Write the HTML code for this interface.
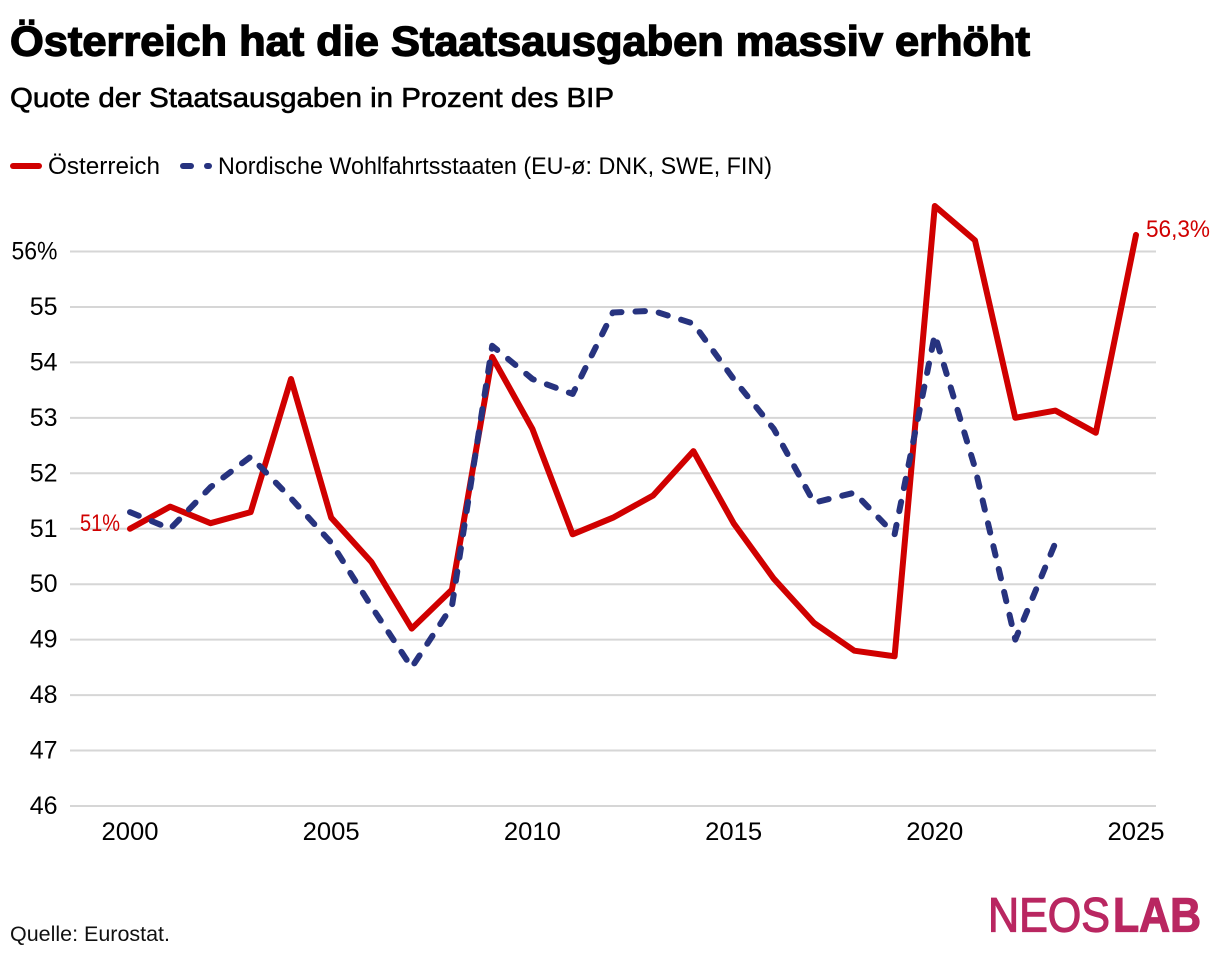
<!DOCTYPE html>
<html lang="de">
<head>
<meta charset="utf-8">
<title>Österreich hat die Staatsausgaben massiv erhöht</title>
<style>
html,body{margin:0;padding:0;background:#fff;}
svg{display:block;font-family:"Liberation Sans",sans-serif;}
</style>
</head>
<body>
<svg id="chart" width="1220" height="960" viewBox="0 0 1220 960" xmlns="http://www.w3.org/2000/svg">
  <text x="10" y="55.5" font-size="42" font-weight="700" fill="#000" stroke="#000" stroke-width="1.4" textLength="1020" lengthAdjust="spacingAndGlyphs">Österreich hat die Staatsausgaben massiv erhöht</text>
  <text x="10" y="107" font-size="28" fill="#000" stroke="#000" stroke-width="0.6" textLength="604" lengthAdjust="spacingAndGlyphs">Quote der Staatsausgaben in Prozent des BIP</text>

  <g>
    <line x1="13" y1="166" x2="39" y2="166" stroke="#d00000" stroke-width="6" stroke-linecap="round"/>
    <text x="48" y="174" font-size="24" fill="#000" textLength="112" lengthAdjust="spacingAndGlyphs">Österreich</text>
    <line x1="183" y1="166" x2="191" y2="166" stroke="#27337f" stroke-width="6" stroke-linecap="round"/>
    <line x1="207" y1="166" x2="209" y2="166" stroke="#27337f" stroke-width="6" stroke-linecap="round"/>
    <text x="218" y="174" font-size="24" fill="#000" textLength="554" lengthAdjust="spacingAndGlyphs">Nordische Wohlfahrtsstaaten (EU-ø: DNK, SWE, FIN)</text>
  </g>

  <g id="grid"></g>
  <g id="yaxis"></g>
  <g id="xaxis"></g>
  <g id="series"></g>
  <g id="annotations"></g>

  <text x="10" y="941" font-size="21" fill="#111" textLength="160" lengthAdjust="spacingAndGlyphs">Quelle: Eurostat.</text>
  <g>
    <text x="988" y="931.5" font-size="48" fill="#b92761" stroke="#b92761" stroke-width="1.2" textLength="122" lengthAdjust="spacingAndGlyphs">NEOS</text>
    <text x="1113" y="931.5" font-size="48" font-weight="700" fill="#b92761" stroke="#b92761" stroke-width="1.2" textLength="88" lengthAdjust="spacingAndGlyphs">LAB</text>
  </g>
</svg>
<script>
const years = [2000,2001,2002,2003,2004,2005,2006,2007,2008,2009,2010,2011,2012,2013,2014,2015,2016,2017,2018,2019,2020,2021,2022,2023,2024,2025];
const austriaValues = [51,51.4,51.1,51.3,53.7,51.2,50.4,49.2,49.9,54.1,52.8,50.9,51.2,51.6,52.4,51.1,50.1,49.3,48.8,48.7,56.82,56.2,53.0,53.13,52.73,56.3];
const nordicValues = [51.3,51.0,51.75,52.3,51.55,50.75,49.6,48.5,49.6,54.3,53.7,53.43,54.9,54.93,54.7,53.7,52.8,51.47,51.65,50.9,54.5,52.1,49.0,50.75];
const yTicks = [46,47,48,49,50,51,52,53,54,55,56];
const xTicks = [2000,2005,2010,2015,2020,2025];

const NS = 'http://www.w3.org/2000/svg';
function xScale(year) { return 130 + (year - 2000) * 40.24; }
function yScale(v) { return 806 - (v - 46) * 55.45; }
function make(parent, tag, attrs, txt) {
  const el = document.createElementNS(NS, tag);
  for (const k in attrs) el.setAttribute(k, attrs[k]);
  if (txt !== undefined) el.textContent = txt;
  parent.appendChild(el);
  return el;
}
function linePoints(values) {
  return values.map(function (v, i) { return xScale(years[i]).toFixed(1) + ',' + yScale(v).toFixed(1); }).join(' ');
}

const grid = document.getElementById('grid');
const yaxis = document.getElementById('yaxis');
const xaxis = document.getElementById('xaxis');
const series = document.getElementById('series');
const annotations = document.getElementById('annotations');

yTicks.forEach(function (t) {
  const g = make(grid, 'line', {x1: 70, x2: 1156, y1: yScale(t), y2: yScale(t), stroke: '#d6d6d6', 'stroke-width': 2});
  
  
  const l = make(yaxis, 'text', {x: 57.5, y: yScale(t) + 8, 'font-size': 25, 'text-anchor': 'end', fill: '#000'}, t === 56 ? t + '%' : String(t));
  if (t === 56) { l.setAttribute('textLength', 46); l.setAttribute('lengthAdjust', 'spacingAndGlyphs'); }
  
  
});
xTicks.forEach(function (t) {
  const l = make(xaxis, 'text', {x: xScale(t), y: 840, 'font-size': 25, 'text-anchor': 'middle', fill: '#000', textLength: 57, lengthAdjust: 'spacingAndGlyphs'}, String(t));
  
  
});

const austriaLine = make(series, 'polyline', {points: linePoints(austriaValues), fill: 'none', stroke: '#d00000', 'stroke-width': 6, 'stroke-linejoin': 'round', 'stroke-linecap': 'round'});



const nordicLine = make(series, 'polyline', {points: linePoints(nordicValues), fill: 'none', stroke: '#27337f', 'stroke-width': 6, 'stroke-linejoin': 'round', 'stroke-linecap': 'round', 'stroke-dasharray': '9.5 14'});



const startLabel = make(annotations, 'text', {x: xScale(years[0]) - 10, y: yScale(austriaValues[0]) + 2, 'font-size': 24, 'text-anchor': 'end', fill: '#d00000', textLength: 40, lengthAdjust: 'spacingAndGlyphs'}, String(austriaValues[0]) + '%');



const lastVal = austriaValues[austriaValues.length - 1];
const endLabel = make(annotations, 'text', {x: xScale(years[years.length - 1]) + 10, y: yScale(lastVal) + 2, 'font-size': 24, fill: '#d00000', textLength: 64, lengthAdjust: 'spacingAndGlyphs'}, String(lastVal).replace('.', ',') + '%');


</script>
</body>
</html>
